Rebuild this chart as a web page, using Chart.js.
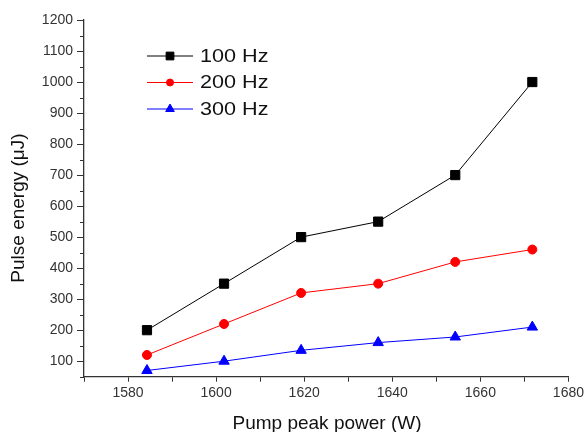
<!DOCTYPE html>
<html>
<head>
<meta charset="utf-8">
<script src="https://cdn.jsdelivr.net/npm/chart.js@4.4.1/dist/chart.umd.min.js"></script>
<style>
  html, body { margin: 0; padding: 0; background: #fff; }
  #wrap { width: 587px; height: 432px; }
</style>
</head>
<body>
<div id="wrap"><canvas id="pulseChart"></canvas></div>
<script>
// pump peak power (W)
const powers = [1584.3, 1601.8, 1619.3, 1636.8, 1654.3, 1671.8];
// pulse energy (uJ) per repetition rate
const e100 = [200, 350, 500, 550, 700, 1000];
const e200 = [120, 220, 320, 350, 420, 460];
const e300 = [70, 100, 135, 160, 178, 210];
const seriesNames = ["100 Hz", "200 Hz", "300 Hz"];
const xTickLabels = [1580, 1600, 1620, 1640, 1660, 1680];
const yTickLabels = [100, 200, 300, 400, 500, 600, 700, 800, 900, 1000, 1100, 1200];
const xTitle = "Pump peak power (W)";
const yTitle = "Pulse energy (μJ)";

const FONT = "'Liberation Sans', Arial, sans-serif";

const toPts = (ys) => ys.map((y, i) => ({ x: powers[i], y: y }));

// legend inside the plot + axis titles + short minor ticks on y
const extras = {
  id: "extras",
  afterDraw(chart) {
    const ctx = chart.ctx;
    const x0 = 147, x1 = 193, tx = 200;
    const rows = [56, 82.5, 109];
    ctx.save();
    chart.data.datasets.forEach((ds, i) => {
      const y = rows[i];
      ctx.strokeStyle = ds.borderColor;
      ctx.lineWidth = 1;
      ctx.beginPath();
      ctx.moveTo(x0, y);
      ctx.lineTo(x1, y);
      ctx.stroke();
      ctx.fillStyle = ds.pointBackgroundColor;
      Chart.helpers.drawPoint(ctx, {
        pointStyle: ds.pointStyle,
        radius: ds.pointRadius - 1,
        rotation: 0,
        borderWidth: 1
      }, (x0 + x1) / 2, y);
      ctx.save();
      ctx.translate(tx, y + 1);
      ctx.scale(1.2, 1);
      ctx.fillStyle = "#111";
      ctx.font = "18px " + FONT;
      ctx.textBaseline = "middle";
      ctx.textAlign = "left";
      ctx.fillText(ds.label, 0, 0);
      ctx.restore();
    });

    // minor ticks on y axis
    const ys = chart.scales.y;
    ctx.strokeStyle = "#333";
    ctx.lineWidth = 1;
    for (let v = 50; v < 1200; v += 100) {
      const py = Math.round(ys.getPixelForValue(v)) + 0.5;
      ctx.beginPath();
      ctx.moveTo(ys.right - 4, py);
      ctx.lineTo(ys.right, py);
      ctx.stroke();
    }

    // axis titles
    ctx.fillStyle = "#111";
    ctx.font = "19px " + FONT;
    ctx.textAlign = "center";
    ctx.textBaseline = "alphabetic";
    ctx.fillText(xTitle, 327, 429);
    ctx.save();
    ctx.translate(19, 208);
    ctx.rotate(-Math.PI / 2);
    ctx.textBaseline = "middle";
    ctx.fillText(yTitle, 0, 0);
    ctx.restore();
    ctx.restore();
  }
};

const mkSet = (label, data, color, style, r) => ({
  label: label,
  data: toPts(data),
  borderColor: color,
  backgroundColor: color,
  pointBackgroundColor: color,
  pointBorderColor: color,
  pointStyle: style,
  pointRadius: r,
  pointHoverRadius: r,
  borderWidth: 1,
  tension: 0
});

new Chart(document.getElementById("pulseChart"), {
  type: "line",
  data: {
    datasets: [
      mkSet(seriesNames[0], e100, "#000000", "rect", 6.5),
      mkSet(seriesNames[1], e200, "#ff0000", "circle", 4.5),
      mkSet(seriesNames[2], e300, "#0000ff", "triangle", 6)
    ]
  },
  options: {
    responsive: true,
    maintainAspectRatio: false,
    animation: false,
    layout: { padding: { top: 20, right: 18, left: 0, bottom: 0 } },
    plugins: {
      legend: { display: false },
      tooltip: { enabled: false }
    },
    scales: {
      x: {
        type: "linear",
        min: 1570,
        max: 1680,
        border: { color: "#333", width: 1.3 },
        grid: { drawOnChartArea: false, drawTicks: true, tickLength: 5, color: "#333" },
        ticks: {
          stepSize: 10,
          autoSkip: false,
          maxRotation: 0,
          color: "#333",
          font: { family: FONT, size: 14 },
          padding: 3,
          callback: (v) => xTickLabels.includes(v) ? String(v) : ""
        },
        afterFit: (scale) => { scale.height = 55.3; }
      },
      y: {
        min: 50,
        max: 1200,
        border: { color: "#333", width: 1.3 },
        grid: {
          drawOnChartArea: false,
          drawTicks: true,
          tickLength: 7,
          color: (c) => (c.tick && c.tick.value % 100 === 0) ? "#333" : "rgba(0,0,0,0)"
        },
        ticks: {
          stepSize: 50,
          autoSkip: false,
          color: "#333",
          font: { family: FONT, size: 14 },
          padding: 4,
          callback: (v) => yTickLabels.includes(v) ? String(v) : ""
        },
        afterFit: (scale) => { scale.width = 84; }
      }
    }
  },
  plugins: [extras]
});
</script>
</body>
</html>
